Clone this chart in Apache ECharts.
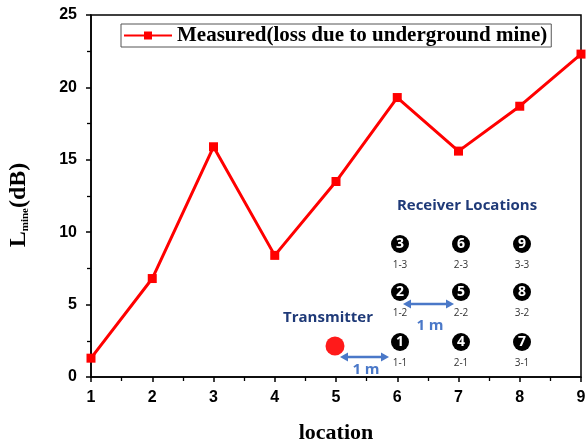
<!DOCTYPE html>
<html><head><meta charset="utf-8">
<script src="https://cdn.jsdelivr.net/npm/echarts@6/dist/echarts.min.js"></script>
<style>html,body{margin:0;padding:0;background:#fff}#c{width:587px;height:444px}</style>
</head><body><div id="c"></div>
<script>
var locations = [1, 2, 3, 4, 5, 6, 7, 8, 9];
var lossMine = [1.3, 6.8, 15.9, 8.4, 13.5, 19.3, 15.6, 18.7, 22.3];
var seriesName = 'Measured(loss due to underground mine)';
var receiverNums = ['3','6','9','2','5','8','1','4','7'];
var receiverLabels = ['1-3','2-3','3-3','1-2','2-2','3-2','1-1','2-1','3-1'];

var chart = echarts.init(document.getElementById('c'), null, {renderer:'canvas'});
var pts = locations.map(function(x,i){return [x, lossMine[i]];});

var colX = [400, 461, 522];
var rowY = [244, 292, 342];
var graphics = [];
receiverNums.forEach(function(n, i){
  var cx = colX[i % 3], cy = rowY[Math.floor(i / 3)];
  graphics.push({type:'circle', shape:{cx:cx, cy:cy, r:9}, style:{fill:'#000'}, z:10});
  graphics.push({type:'text', x:cx, y:cy+0.5, style:{text:n, fill:'#fff', font:'bold 14px "Open Sans"', align:'center', verticalAlign:'middle'}, z:11});
  graphics.push({type:'text', x:cx, y:cy+21, style:{text:receiverLabels[i], fill:'#333', font:'10px "Open Sans"', align:'center', verticalAlign:'middle'}, z:11});
});
graphics.push({type:'text', x:467, y:206, style:{text:'Receiver Locations', fill:'#1f3a78', font:'bold 15px "Open Sans"', align:'center', verticalAlign:'middle'}, z:11});
graphics.push({type:'text', x:328, y:318, style:{text:'Transmitter', fill:'#1f3a78', font:'bold 15px "Open Sans"', align:'center', verticalAlign:'middle'}, z:11});
graphics.push({type:'circle', shape:{cx:335, cy:346, r:9.5}, style:{fill:'#ff1a1a'}, z:10});
function arrow(x1, x2, y){
  var c = '#4a78c8';
  graphics.push({type:'line', shape:{x1:x1+4, y1:y, x2:x2-4, y2:y}, style:{stroke:c, lineWidth:2.5}, z:10});
  graphics.push({type:'polygon', shape:{points:[[x1,y],[x1+8,y-4.5],[x1+8,y+4.5]]}, style:{fill:c}, z:10});
  graphics.push({type:'polygon', shape:{points:[[x2,y],[x2-8,y-4.5],[x2-8,y+4.5]]}, style:{fill:c}, z:10});
}
arrow(403, 454, 304);
arrow(340, 389, 357);
graphics.push({type:'text', x:430, y:326, style:{text:'1 m', fill:'#4a78c8', font:'bold 15px "Open Sans"', align:'center', verticalAlign:'middle'}, z:11});
graphics.push({type:'text', x:366, y:370, style:{text:'1 m', fill:'#4a78c8', font:'bold 15px "Open Sans"', align:'center', verticalAlign:'middle'}, z:11});

var option = {
  animation:false,
  backgroundColor:'#fff',
  grid:{left:91, right:6, top:15, bottom:67, outerBoundsMode:'none', containLabel:false, show:true, borderColor:'#000', borderWidth:1.5, backgroundColor:'transparent'},
  legend:{
    data:[seriesName], top:24, left:121, itemWidth:48, itemHeight:10, padding:[1,4,1,2],
    borderColor:'#555', borderWidth:1, itemGap:4,
    textStyle:{fontFamily:'Liberation Serif', fontWeight:'bold', fontSize:21, color:'#000'}
  },
  xAxis:{
    type:'value', min:1, max:9, interval:1,
    name:'location', nameLocation:'middle', nameGap:45,
    nameTextStyle:{fontFamily:'Liberation Serif', fontWeight:'bold', fontSize:22, color:'#000'},
    axisLine:{lineStyle:{color:'#000', width:1.5}},
    axisTick:{inside:false, length:5, lineStyle:{color:'#000', width:1.5}},
    minorTick:{show:true, splitNumber:2, length:4, lineStyle:{color:'#000', width:1.3}},
    axisLabel:{fontFamily:'Liberation Sans', fontWeight:'bold', fontSize:16, color:'#000', margin:13},
    splitLine:{show:false}
  },
  yAxis:{
    type:'value', min:0, max:25, interval:5,
    name:'{a|L}{b|mine}{a|(dB)}', nameLocation:'middle', nameGap:60, nameRotate:90,
    nameTextStyle:{padding:[0,18,0,0], rich:{
      a:{fontFamily:'Liberation Serif', fontWeight:'bold', fontSize:24, color:'#000', verticalAlign:'bottom', lineHeight:26},
      b:{fontFamily:'Liberation Serif', fontWeight:'bold', fontSize:11, color:'#000', verticalAlign:'bottom', lineHeight:20}
    }},
    axisLine:{lineStyle:{color:'#000', width:1.5}},
    axisTick:{inside:false, length:5, lineStyle:{color:'#000', width:1.5}},
    minorTick:{show:true, splitNumber:2, length:4, lineStyle:{color:'#000', width:1.3}},
    axisLabel:{fontFamily:'Liberation Sans', fontWeight:'bold', fontSize:16, color:'#000', margin:14},
    splitLine:{show:false}
  },
  series:[{
    name:seriesName, type:'line', data:pts,
    symbol:'rect', symbolSize:9,
    lineStyle:{color:'#ff0000', width:3},
    itemStyle:{color:'#ff0000'}
  }],
  graphic:graphics
};
chart.setOption(option);
</script></body></html>
